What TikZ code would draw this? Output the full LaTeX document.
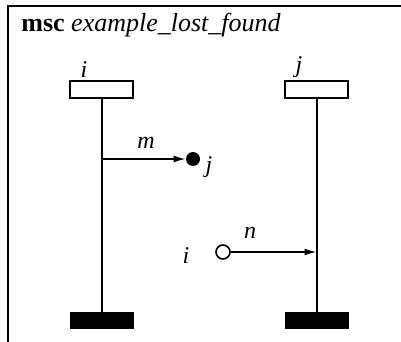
\documentclass[tikz,border=0pt]{standalone}
\usepackage{fontspec}
\setmainfont{Liberation Serif}
\usetikzlibrary{positioning,arrows.meta}

\begin{document}
\begin{tikzpicture}[x=0.5pt,y=-0.5pt,>={Latex[length=6pt,width=3.5pt]},
  head/.style={draw,line width=1pt,minimum width=31.5pt,minimum height=8.5pt,inner sep=0pt},
  foot/.style={draw,fill=black,minimum width=31.5pt,minimum height=8pt,inner sep=0pt},
  lifeline/.style={line width=1pt},
  msg/.style={->,line width=0.8pt},
  lost/.style={circle,fill=black,minimum size=7pt,inner sep=0pt},
  found/.style={circle,draw,line width=0.8pt,minimum size=7pt,inner sep=0pt},
  lbl/.style={font=\fontsize{12}{14}\selectfont\itshape,inner sep=1pt}]
\useasboundingbox (0,0) rectangle (401,342);
% frame
\draw[line width=1pt] (8,342) -- (8,6) -- (401,6);
\node[anchor=west,inner sep=0pt,font=\fontsize{13}{15}\selectfont] (title) at (21,25)
  {\textbf{msc} \textit{example\_lost\_found}};
% instances
\node[head] (hi) at (101.5,89.5) {};
\node[head] (hj) at (316.5,89.5) {};
\node[lbl,above=0pt of hi.north west,xshift=7.5pt,anchor=south] (namei) {i};
\node[lbl,above=0pt of hj.north west,xshift=7.5pt,anchor=south] (namej) {j};
\node[foot] (ei) at (101.5,320) {};
\node[foot] (ej) at (316.5,320) {};
\draw[lifeline] (hi) -- (ei);
\draw[lifeline] (hj) -- (ej);
% lost message m
\coordinate (outm) at (101.5,159);
\node[lost] (lostm) at (193,159) {};
\draw[msg] (outm) -- (lostm);
\node[lbl] (m) at (146,143) {m};
\node[lbl] (lj) at (209,167) {j};
% found message n
\node[found] (foundn) at (223,252) {};
\coordinate (inn) at (316.5,252);
\draw[msg] (foundn) -- (inn);
\node[lbl] (n) at (250,233) {n};
\node[lbl] (li) at (186,256) {i};
\end{tikzpicture}
\end{document}
